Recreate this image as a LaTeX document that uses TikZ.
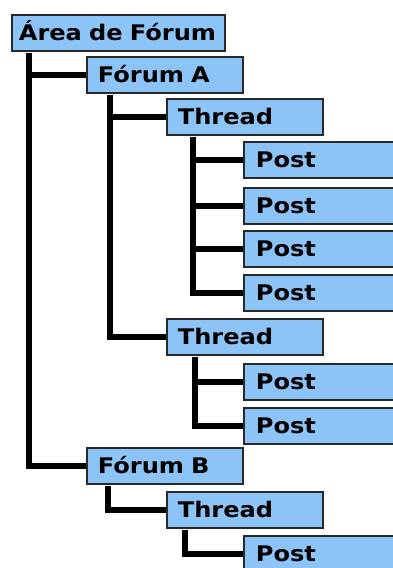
\documentclass[tikz,border=0pt]{standalone}
\usepackage{fontspec}
\setmainfont{DejaVu Sans}[FakeStretch=1.12]
\definecolor{boxblue}{RGB}{140,196,248}
\definecolor{boxline}{RGB}{40,40,40}
\tikzset{
  bx/.style={draw=boxline, line width=1.8pt, fill=boxblue, anchor=north west,
    minimum height=36pt, inner ysep=0pt, inner xsep=11pt,
    text height=16pt, text depth=0pt, align=left,
    font=\bfseries\fontsize{21.5}{22}\selectfont},
  conn/.style={line width=6pt, black, line join=miter, line cap=butt}
}
\begin{document}
\begin{tikzpicture}[x=1pt,y=-1pt]
\useasboundingbox (0,0) rectangle (393,568);
\fill[white] (0,0) rectangle (393,568);
\clip (0,0) rectangle (393,568);
% boxes
\node[bx, inner xsep=7pt, text width=199pt] (root) at (11,14) {Área de Fórum};
\node[bx, text width=134pt] (fA) at (86,56) {Fórum A};
\node[bx, text width=134pt] (t1) at (166,98) {Thread};
\node[bx, inner xsep=12pt, text width=170pt] (p1) at (243,141) {Post};
\node[bx, inner xsep=12pt, text width=170pt] (p2) at (243,187) {Post};
\node[bx, inner xsep=12pt, text width=170pt] (p3) at (243,230) {Post};
\node[bx, inner xsep=12pt, text width=170pt] (p4) at (243,274) {Post};
\node[bx, text width=134pt] (t2) at (166,318) {Thread};
\node[bx, inner xsep=12pt, text width=170pt] (p5) at (243,363) {Post};
\node[bx, inner xsep=12pt, text width=170pt] (p6) at (243,407) {Post};
\node[bx, text width=134pt] (fB) at (86,447) {Fórum B};
\node[bx, text width=134pt] (t3) at (166,491) {Thread};
\node[bx, inner xsep=12pt, text width=170pt] (p7) at (243,535) {Post};
% connectors
\draw[conn] ([xshift=18pt,yshift=-0.9pt]root.south west) |- (fA.west);
\draw[conn] ([xshift=18pt,yshift=-0.9pt]root.south west) |- (fB.west);
\draw[conn] ([xshift=24pt,yshift=-0.9pt]fA.south west) |- (t1.west);
\draw[conn] ([xshift=24pt,yshift=-0.9pt]fA.south west) |- (t2.west);
\foreach \p in {p1,p2,p3,p4}
  \draw[conn] ([xshift=27pt,yshift=-0.9pt]t1.south west) |- (\p.west);
\foreach \p in {p5,p6}
  \draw[conn] ([xshift=29pt,yshift=-0.9pt]t2.south west) |- (\p.west);
\draw[conn] ([xshift=22pt,yshift=-0.9pt]fB.south west) |- (t3.west);
\draw[conn] ([xshift=19pt,yshift=-0.9pt]t3.south west) |- (p7.west);
\end{tikzpicture}
\end{document}
